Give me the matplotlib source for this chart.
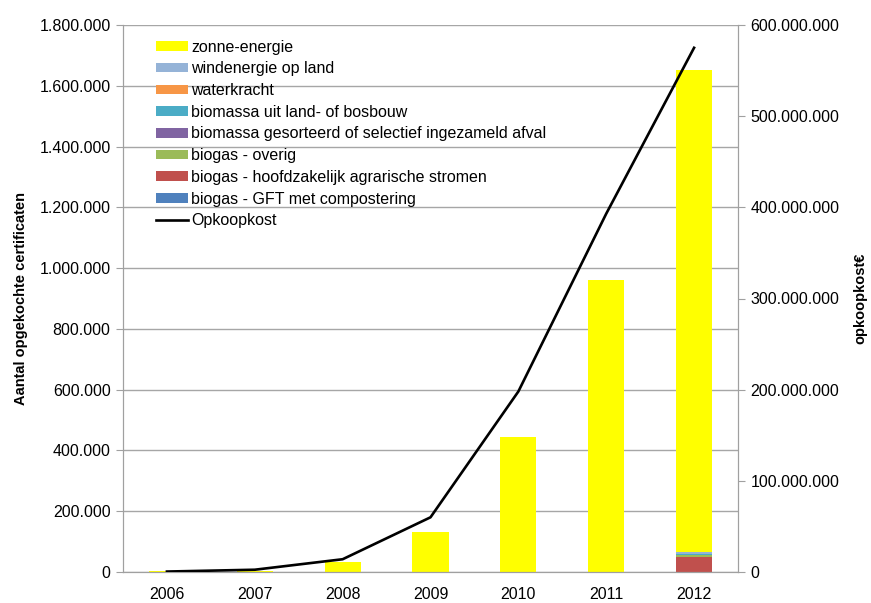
import numpy as np
from matplotlib import pyplot as plt
from matplotlib.ticker import FuncFormatter, MultipleLocator
from matplotlib.lines import Line2D

plt.rcParams["font.family"] = ["Liberation Sans", "DejaVu Sans"]
plt.rcParams["font.size"] = 11.5

years = ["2006", "2007", "2008", "2009", "2010", "2011", "2012"]

# Stack from bottom to top.
gft = [0, 0, 0, 0, 0, 0, 1500]
agrarisch = [0, 0, 0, 0, 0, 0, 48000]
biogas_overig = [0, 0, 0, 0, 0, 0, 5000]
biomassa_afval = [0, 0, 0, 0, 0, 0, 1000]
biomassa_land = [0, 0, 0, 0, 0, 0, 4000]
waterkracht = [0, 0, 0, 0, 0, 0, 1000]
wind = [0, 0, 0, 0, 0, 0, 4000]
zon = [3000, 3000, 33000, 131000, 444000, 960000, 1586000]

opkoopkost = [0.5e6, 2.5e6, 14e6, 60e6, 198e6, 393e6, 575e6]

series = [
    ("biogas - GFT met compostering", gft, "#4F81BD"),
    ("biogas - hoofdzakelijk agrarische stromen", agrarisch, "#C0504D"),
    ("biogas - overig", biogas_overig, "#9BBB59"),
    ("biomassa gesorteerd of selectief ingezameld afval", biomassa_afval, "#8064A2"),
    ("biomassa uit land- of bosbouw", biomassa_land, "#4BACC6"),
    ("waterkracht", waterkracht, "#F79646"),
    ("windenergie op land", wind, "#95B3D7"),
    ("zonne-energie", zon, "#FFFF00"),
]


def dutch(v, pos):
    return f"{int(round(v)):,}".replace(",", ".")


fig = plt.figure(figsize=(8.71, 6.03), dpi=100)
ax = fig.add_axes([123 / 871, 1 - 572 / 603, 615 / 871, 547 / 603])
ax2 = ax.twinx()

x = np.arange(len(years))
bottom = np.zeros(len(years))
handles = []
for label, vals, color in series:
    b = ax.bar(x, vals, width=0.41, bottom=bottom, color=color, zorder=2, label=label)
    bottom += np.array(vals)
    handles.append(b)

line, = ax2.plot(x, opkoopkost, color="black", lw=1.9, zorder=3)

ax.set_xlim(-0.5, len(years) - 0.5)
ax.set_ylim(0, 1800000)
ax2.set_ylim(0, 600000000)
ax.yaxis.set_major_locator(MultipleLocator(200000))
ax2.yaxis.set_major_locator(MultipleLocator(100000000))
ax.yaxis.set_major_formatter(FuncFormatter(dutch))
ax2.yaxis.set_major_formatter(FuncFormatter(dutch))

ax.set_xticks(x)
ax.set_xticklabels(years)
ax.tick_params(axis="x", length=0, pad=11)
ax.tick_params(axis="y", length=5, color="#A0A0A0", pad=4)
ax2.tick_params(axis="y", length=5, color="#A0A0A0", pad=4)

ax.grid(axis="y", color="#A6A6A6", lw=1, zorder=0)
ax.set_axisbelow(True)

for a in (ax, ax2):
    a.spines["top"].set_visible(False)
    for s in ("left", "right", "bottom"):
        a.spines[s].set_color("#A0A0A0")

ax.set_ylabel("Aantal opgekochte certificaten", fontweight="bold",
              family=["Liberation Sans Narrow", "Liberation Sans"], fontsize=10.5, labelpad=8)
ax2.set_ylabel("opkoopkost€", fontweight="bold", fontsize=10.5, labelpad=10)

leg_handles = handles[::-1] + [Line2D([0], [0], color="black", lw=1.9)]
leg_labels = [s[0] for s in series[::-1]] + ["Opkoopkost"]
ax2.legend(leg_handles, leg_labels, loc="upper left", bbox_to_anchor=(0.043, 0.985),
           frameon=False, handlelength=2.0, handleheight=0.55, handletextpad=0.2,
           labelspacing=0.42, borderaxespad=0, fontsize=11.5)

fig.savefig("out.png", dpi=100)
